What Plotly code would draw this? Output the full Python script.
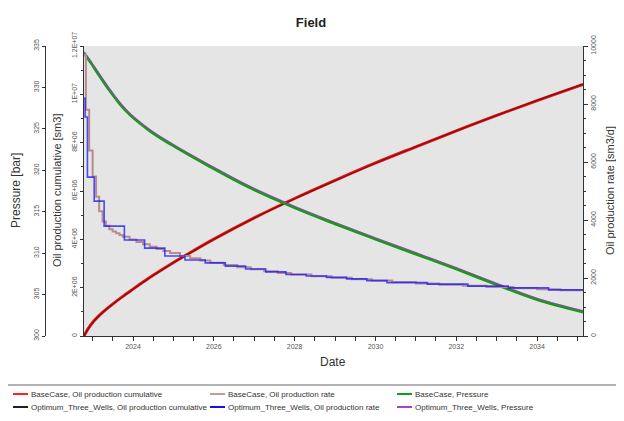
import plotly.graph_objects as go

# ---------------- data ----------------
pressure_dates = ["2022-10-15", "2022-12-10", "2023-03-10", "2023-06-06", "2023-09-05",
                  "2023-12-05", "2024-06-03", "2024-12-01", "2025-11-28", "2026-11-24",
                  "2028-01-01", "2029-01-01", "2030-01-01", "2031-01-01", "2032-01-01",
                  "2033-01-01", "2034-01-01", "2035-02-20"]
base_pressure = [334.15, 333.1, 331.3, 329.6, 328.0, 326.7, 324.75, 323.2, 320.45, 317.9,
                 315.5, 313.55, 311.7, 309.9, 308.1, 306.2, 304.4, 302.9]
opt_pressure = [334.3, 333.25, 331.45, 329.75, 328.15, 326.85, 324.9, 323.35, 320.6, 318.05,
                315.65, 313.7, 311.85, 310.05, 308.25, 306.35, 304.55, 303.05]

cum_dates = ["2022-10-15", "2022-11-01", "2022-12-01", "2023-01-01", "2023-02-01",
             "2023-04-01", "2023-07-01", "2023-10-01", "2024-01-01", "2024-04-01",
             "2024-07-01", "2025-01-01", "2025-07-01", "2026-01-01", "2027-01-01",
             "2028-01-01", "2029-01-01", "2030-01-01", "2031-01-01", "2032-01-01",
             "2033-01-01", "2034-01-01", "2035-01-01", "2035-02-20"]
base_cum = [0, 0.15e6, 0.37e6, 0.56e6, 0.72e6, 0.98e6, 1.32e6, 1.64e6, 1.94e6, 2.23e6,
            2.51e6, 3.04e6, 3.53e6, 4.01e6, 4.89e6, 5.69e6, 6.44e6, 7.16e6, 7.83e6,
            8.49e6, 9.13e6, 9.74e6, 10.33e6, 10.41e6]
opt_cum = [0, 0.14e6, 0.36e6, 0.55e6, 0.71e6, 0.97e6, 1.31e6, 1.63e6, 1.93e6, 2.22e6,
           2.50e6, 3.03e6, 3.52e6, 4.00e6, 4.88e6, 5.68e6, 6.43e6, 7.15e6, 7.83e6,
           8.49e6, 9.13e6, 9.75e6, 10.34e6, 10.42e6]

base_rate_dates = ["2022-10-15", "2022-11-01", "2022-12-01", "2023-01-01", "2023-02-01",
                   "2023-03-01", "2023-04-01", "2023-05-01", "2023-06-01", "2023-07-01",
                   "2023-08-01", "2023-09-01", "2023-10-01", "2023-12-01", "2024-02-01",
                   "2024-04-01", "2024-06-01", "2024-08-01", "2024-10-01", "2024-12-01",
                   "2025-03-01", "2025-06-01", "2025-09-01", "2025-12-01", "2026-04-01",
                   "2026-08-01", "2026-12-01", "2027-04-01", "2027-08-01", "2027-12-01",
                   "2028-06-01", "2028-12-01", "2029-06-01", "2029-12-01", "2030-06-01",
                   "2031-01-01", "2031-08-01", "2032-03-01", "2032-10-01", "2033-06-01",
                   "2034-01-01", "2034-08-01", "2035-02-20"]
base_rate = [9700, 7800, 6400, 5500, 4800, 4300, 3950, 3800, 3680, 3600,
             3540, 3480, 3420, 3330, 3240, 3160, 3080, 3000, 2930, 2860,
             2760, 2680, 2600, 2530, 2450, 2370, 2300, 2230, 2170, 2120,
             2060, 2010, 1960, 1910, 1860, 1810, 1770, 1730, 1690, 1650,
             1610, 1580, 1570]

opt_rate_dates = ["2022-10-15", "2022-10-25", "2022-11-15", "2023-01-15", "2023-04-15",
                  "2023-10-15", "2024-04-15", "2024-10-15", "2025-04-15", "2025-10-15",
                  "2026-04-15", "2026-10-15", "2027-04-15", "2027-10-15", "2028-04-15",
                  "2028-10-15", "2029-04-15", "2029-10-15", "2030-04-15", "2031-04-15",
                  "2032-04-15", "2033-04-15", "2034-04-15", "2035-02-20"]
opt_rate = [8200, 7550, 5480, 4650, 3790, 3310, 3030, 2760, 2620, 2520,
            2410, 2310, 2210, 2120, 2070, 2020, 1970, 1910, 1840, 1790,
            1720, 1660, 1590, 1590]

cum_tickvals = [0, 2e6, 4e6, 6e6, 8e6, 1e7, 1.2e7]
cum_ticktext = ["0", "2E+06", "4E+06", "6E+06", "8E+06", "1E+07", "1.2E+07"]

legend_names = ["BaseCase, Oil production cumulative", "BaseCase, Oil production rate",
                "BaseCase, Pressure", "Optimum_Three_Wells, Oil production cumulative",
                "Optimum_Three_Wells, Oil production rate", "Optimum_Three_Wells, Pressure"]
legend_colors = ["#ff2020", "#c89a9a", "#10a010", "#202020", "#1010ff", "#b040c0"]

# ---------------- geometry ----------------
# page body has an 8px margin, so the figure is placed 8px in from the window corner
OFF = 8
W, H = 624 - OFF, 421 - OFF
px = lambda x: (x - OFF) / W
py = lambda y: 1 - (y - OFF) / H
FONT = "Liberation Sans, Arial, sans-serif"

fig = go.Figure()

# BaseCase
fig.add_trace(go.Scatter(x=cum_dates, y=base_cum, name=legend_names[0], mode="lines",
                         line=dict(color="#e01818", width=3, shape="spline"), yaxis="y"))
fig.add_trace(go.Scatter(x=base_rate_dates, y=base_rate, name=legend_names[1], mode="lines",
                         line=dict(color="#b88c8c", width=2, shape="hv"), yaxis="y3"))
fig.add_trace(go.Scatter(x=pressure_dates, y=base_pressure, name=legend_names[2], mode="lines",
                         line=dict(color="#10a010", width=3, shape="spline"), yaxis="y2"))
# Optimum
fig.add_trace(go.Scatter(x=cum_dates, y=opt_cum, name=legend_names[3], mode="lines",
                         line=dict(color="#300000", width=1.2, shape="spline"), opacity=0.5,
                         yaxis="y"))
fig.add_trace(go.Scatter(x=opt_rate_dates, y=opt_rate, name=legend_names[4], mode="lines",
                         line=dict(color="#1515ff", width=1.6, shape="hv"), opacity=0.75,
                         yaxis="y3"))
fig.add_trace(go.Scatter(x=pressure_dates, y=opt_pressure, name=legend_names[5], mode="lines",
                         line=dict(color="#9a40b8", width=1.3, shape="spline"), opacity=0.8,
                         yaxis="y2"))

tickfont = dict(family=FONT, size=7, color="#555555")
axcol = "#333333"
ydom = [py(336), py(46)]

fig.update_layout(
    width=W, height=H,
    margin=dict(l=0, r=0, t=0, b=0, autoexpand=False),
    paper_bgcolor="white",
    plot_bgcolor="#e5e5e5",
    showlegend=False,
    font=dict(family=FONT, color="#333333"),
    title=dict(text="<b>Field</b>", x=px(311), xanchor="center", y=py(22), yanchor="middle",
               font=dict(family=FONT, size=13, color="#222222")),
    xaxis=dict(domain=[px(84), px(583)], type="date", automargin=False,
               range=["2022-10-15", "2035-02-20"],
               tick0="2024-01-01", dtick="M24", tickformat="%Y",
               ticks="outside", ticklen=4, tickcolor=axcol,
               minor=dict(dtick="M6", tick0="2023-01-01", ticks="outside", ticklen=4,
                          tickcolor=axcol, showgrid=False),
               showline=True, linecolor=axcol, linewidth=1, showgrid=False, zeroline=False,
               tickfont=tickfont, anchor="y"),
    yaxis=dict(domain=ydom, range=[0, 1.2e7], tickvals=cum_tickvals, ticktext=cum_ticktext,
               automargin=False,
               tickangle=-90, ticks="outside", ticklen=3, tickcolor=axcol,
               minor=dict(dtick=1e6, ticks="outside", ticklen=2, tickcolor=axcol, showgrid=False),
               showline=True, linecolor=axcol, linewidth=1, showgrid=False, zeroline=False,
               tickfont=tickfont, anchor="x", side="left"),
    yaxis2=dict(range=[300, 335], dtick=5, tickangle=-90, overlaying="y", anchor="free",
                automargin=False,
                position=px(45), side="left", ticks="outside", ticklen=3, tickcolor=axcol,
                showline=True, linecolor=axcol, linewidth=1, showgrid=False, zeroline=False,
                tickfont=tickfont),
    yaxis3=dict(range=[0, 10000], dtick=2000, tickformat="d", tickangle=-90, overlaying="y",
                anchor="x", automargin=False,
                side="right", ticks="outside", ticklen=4, tickcolor=axcol,
                minor=dict(dtick=500, ticks="outside", ticklen=2, tickcolor=axcol, showgrid=False),
                showline=True, linecolor=axcol, linewidth=1, showgrid=False, zeroline=False,
                tickfont=tickfont),
)

# axis titles
ymid = (ydom[0] + ydom[1]) / 2
for txt, xx, sz in [("Pressure [bar]", 16, 12),
                    ("Oil production cumulative [sm3]", 57, 11),
                    ("Oil production rate [sm3/d]", 610, 11)]:
    fig.add_annotation(text=txt, x=px(xx), y=ymid, xref="paper", yref="paper",
                       xanchor="center", yanchor="middle", textangle=-90, showarrow=False,
                       font=dict(family=FONT, size=sz, color="#333333"))
fig.add_annotation(text="Date", x=px(333), y=py(362), xref="paper", yref="paper",
                   xanchor="center", yanchor="middle",
                   showarrow=False, font=dict(family=FONT, size=12, color="#333333"))

# legend area (separator + entries)
fig.add_shape(type="line", xref="paper", yref="paper", x0=0, x1=1, y0=py(385), y1=py(385),
              line=dict(color="#9a9a9a", width=1.5))
col_x = [13, 210, 397]
row_y = [394, 407]
for i, (name, col) in enumerate(zip(legend_names, legend_colors)):
    cx = col_x[i % 3]
    ry = row_y[i // 3]
    fig.add_shape(type="line", xref="paper", yref="paper", x0=px(cx), x1=px(cx + 15),
                  y0=py(ry), y1=py(ry), line=dict(color=col, width=2))
    fig.add_annotation(text=name, x=px(cx + 16), y=py(ry), xref="paper", yref="paper",
                       xanchor="left", yanchor="middle", showarrow=False,
                       font=dict(family=FONT, size=8, color="#333333"))

fig.write_html("out.html")
